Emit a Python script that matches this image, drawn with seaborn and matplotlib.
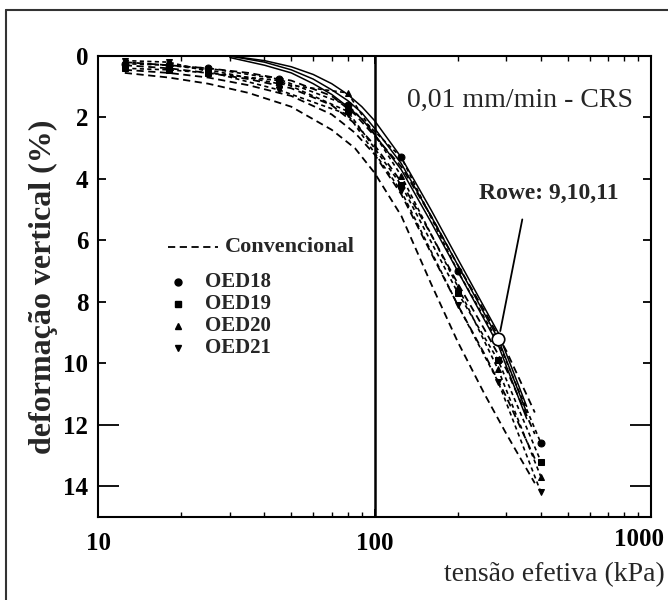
import matplotlib
matplotlib.use("Agg")
import matplotlib.pyplot as plt
import matplotlib.transforms as mtransforms
import seaborn as sns
import pandas as pd
from matplotlib.lines import Line2D

# ---------------- data ----------------
# conventional oedometer tests (dashed)
x_conv = [12.5, 18, 25, 35, 50, 70, 85, 100, 125, 160, 200, 250, 300, 380]
conv_a = [0.20, 0.30, 0.40, 0.55, 0.80, 1.30, 1.90, 2.60, 3.60, 5.20, 6.80, 8.30, 9.60, 11.6]
conv_b = [0.30, 0.40, 0.55, 0.75, 1.05, 1.60, 2.20, 2.90, 4.10, 5.80, 7.40, 8.90, 10.2, 12.3]
conv_c = [0.45, 0.55, 0.70, 0.95, 1.30, 1.90, 2.50, 3.20, 4.50, 6.40, 8.10, 9.70, 11.1, 13.1]
conv_d = [0.55, 0.70, 0.90, 1.20, 1.65, 2.40, 3.00, 3.80, 5.20, 7.40, 9.30, 11.0, 12.3, 13.9]

# CRS tests (with markers)
x_crs = [12.5, 18, 25, 45, 80, 125, 200, 280, 400]
oed18 = [0.25, 0.30, 0.40, 0.75, 1.60, 3.30, 7.00, 9.30, 12.6]
oed19 = [0.40, 0.45, 0.55, 0.80, 1.80, 4.20, 7.70, 9.90, 13.2]
oed20 = [0.20, 0.30, 0.45, 0.90, 1.20, 3.90, 7.50, 10.2, 13.7]
oed21 = [0.15, 0.20, 0.50, 1.10, 1.90, 4.40, 8.10, 10.6, 14.2]

# Rowe cell tests 9, 10, 11 (solid)
x_rowe = [30, 40, 50, 60, 70, 80, 90, 100, 125, 160, 200, 280, 355]
rowe9 = [0.00, 0.15, 0.35, 0.60, 0.90, 1.25, 1.65, 2.10, 3.30, 5.00, 6.60, 9.00, 11.4]
rowe10 = [0.00, 0.20, 0.45, 0.75, 1.10, 1.45, 1.85, 2.35, 3.50, 5.20, 6.80, 9.20, 11.6]
rowe11 = [0.05, 0.30, 0.55, 0.90, 1.25, 1.65, 2.05, 2.55, 3.70, 5.40, 7.00, 9.40, 11.8]

rowe_point = [280, 9.2]  # circled point pointed to by the annotation

legend_labels = ["Convencional", "OED18", "OED19", "OED20", "OED21"]
crs_markers = ["o", "s", "^", "v"]
x_ticks = [10, 100, 1000]
x_tick_labels = ["10", "100", "1000"]
y_ticks = [0, 2, 4, 6, 8, 10, 12, 14]
x_label = "tensão efetiva (kPa)"
y_label = "deformação vertical (%)"
title_text = "0,01 mm/min - CRS"
rowe_text = "Rowe: 9,10,11"

# ---------------- style ----------------
sns.set_style("ticks")
plt.rcParams["font.family"] = ["Liberation Serif", "DejaVu Serif"]
plt.rcParams["axes.linewidth"] = 1.5

fig = plt.figure(figsize=(6.68, 6.0), dpi=100)
ax = fig.add_axes([98 / 668, 1 - 517 / 600, 553 / 668, 461 / 600])

def draw(xs, ys, **kw):
    df = pd.DataFrame({"x": xs, "y": ys})
    sns.lineplot(data=df, x="x", y="y", ax=ax, color="black",
                 estimator=None, errorbar=None, legend=False, **kw)

for ys in [conv_a, conv_b, conv_c, conv_d]:
    draw(x_conv, ys, lw=1.3, dashes=(4, 2.5))

for ys, m in zip([oed18, oed19, oed20, oed21], crs_markers):
    draw(x_crs, ys, lw=1.2, dashes=(2.5, 2), marker=m, markersize=5,
         markeredgecolor="black", markerfacecolor="black")

for ys in [rowe9, rowe10, rowe11]:
    draw(x_rowe, ys, lw=1.1)

ax.axvline(100, color="black", lw=1.8)

ax.set_xscale("log")
ax.set_xlim(10, 1000)
ax.set_ylim(15, 0)
ax.set_xticks(x_ticks)
ax.set_xticklabels(x_tick_labels)
ax.set_yticks(y_ticks)
ax.set_yticklabels([str(v) for v in y_ticks])
ax.tick_params(which="both", direction="in", top=True, right=True, colors="black")
ax.tick_params(which="major", length=6, width=1.3, labelsize=18)
ax.tick_params(which="minor", length=3.5, width=1.0)
ax.tick_params(axis="x", which="major", pad=11)
ax.tick_params(axis="y", which="major", pad=7)
for lab in ax.get_xticklabels() + ax.get_yticklabels():
    lab.set_fontweight("bold")
for s in ax.spines.values():
    s.set_color("black")

# longer ticks at 12 and 14 as in the reference
for t in ax.yaxis.get_major_ticks()[-2:]:
    t.tick1line.set_markersize(15)
    t.tick2line.set_markersize(15)

# the "1000" label sits a little left of its tick in the reference
last = ax.get_xticklabels()[-1]
last.set_transform(last.get_transform() +
                   mtransforms.ScaledTranslation(-12 / 100, 4 / 100, fig.dpi_scale_trans))

ax.set_xlabel(x_label, fontsize=20, ha="right")
ax.xaxis.set_label_coords((665 - 98) / 553, -0.098)
ax.set_ylabel(y_label, fontsize=23, fontweight="bold")
ax.yaxis.set_label_coords(-0.072, 0.5)

# text annotations
ax.text(336, 1.44, title_text, ha="center", va="center", fontsize=20)
ax.plot([rowe_point[0]], [rowe_point[1]], marker="o", markersize=9,
        markerfacecolor="white", markeredgecolor="black", markeredgewidth=1.2,
        linestyle="none", zorder=5)
ax.annotate(rowe_text, xy=(285, 8.95), xytext=(428, 4.47),
            ha="center", va="center", fontsize=17, fontweight="bold",
            arrowprops=dict(arrowstyle="-", color="black", lw=1.3,
                            relpos=(0.33, 0.0), shrinkA=9, shrinkB=0))

# manual legend (axes coordinates)
def ax_xy(px, py):
    return (px - 98) / 553, (517 - py) / 461

lx0, ly0 = ax_xy(168, 247)
lx1, _ = ax_xy(218, 247)
ax.plot([lx0, lx1], [ly0, ly0], transform=ax.transAxes, color="black",
        lw=1.3, dashes=(4, 2.5))
tx, _ = ax_xy(225, 247)
ax.text(tx, ly0, legend_labels[0], transform=ax.transAxes, ha="left",
        va="center", fontsize=16, fontweight="bold")
for lab, m, py in zip(legend_labels[1:], crs_markers, [282, 304, 326, 348]):
    mx, my = ax_xy(178, py)
    ax.plot([mx], [my], transform=ax.transAxes, marker=m, markersize=5,
            color="black", linestyle="none")
    t2x, _ = ax_xy(205, py)
    ax.text(t2x, my, lab, transform=ax.transAxes, ha="left", va="center",
            fontsize=15, fontweight="bold")

# outer frame of the picture
fig.add_artist(Line2D([6 / 668, 1.0], [1 - 10 / 600, 1 - 10 / 600],
                      transform=fig.transFigure, color="#333333", lw=1.5))
fig.add_artist(Line2D([6 / 668, 6 / 668], [0.0, 1 - 10 / 600],
                      transform=fig.transFigure, color="#333333", lw=1.5))

fig.savefig("out.png", dpi=100)
